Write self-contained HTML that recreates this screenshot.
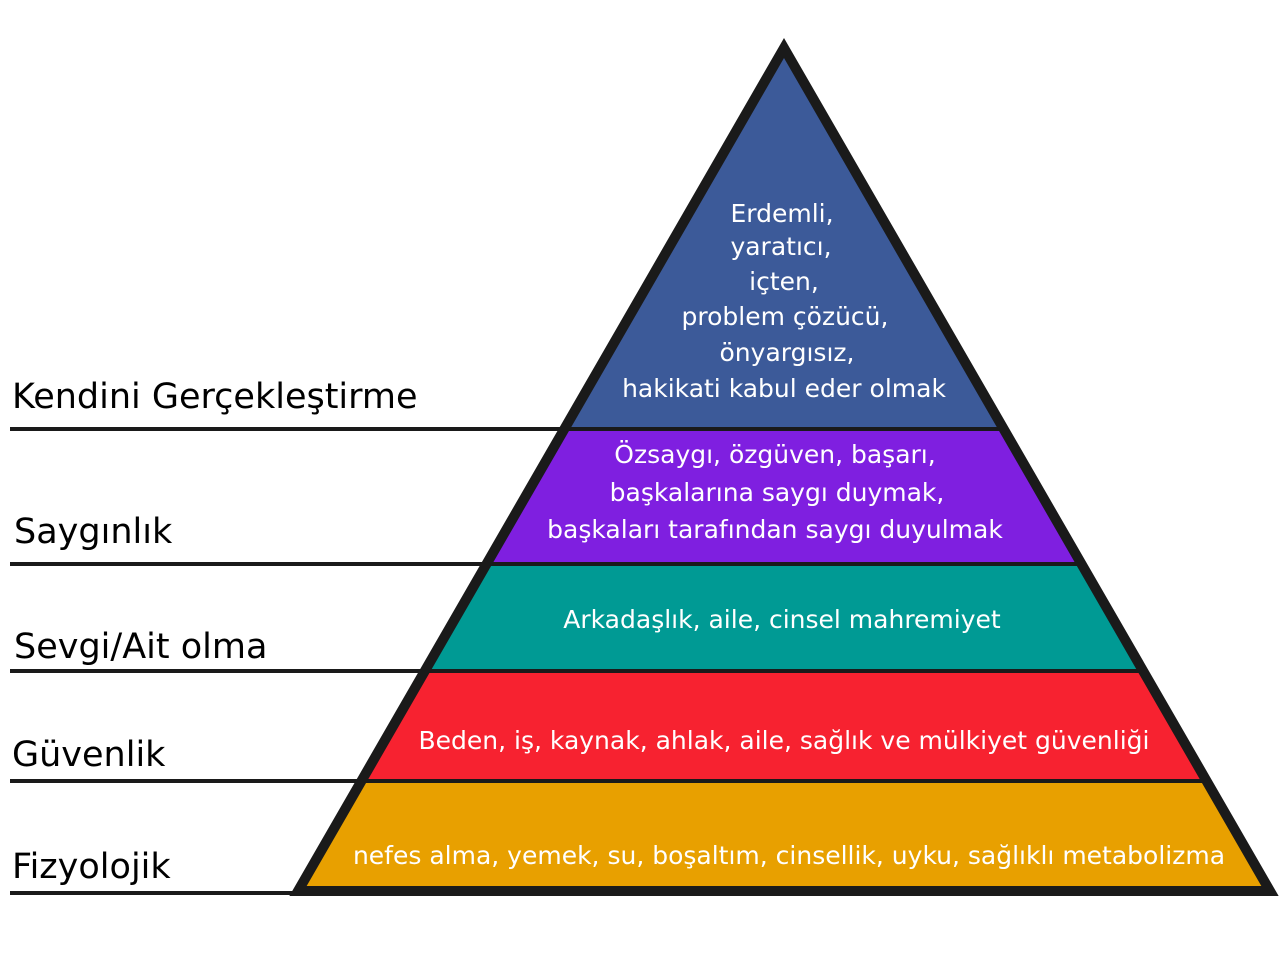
<!DOCTYPE html>
<html><head><meta charset="utf-8"><style>html,body{margin:0;padding:0;background:#fff}svg{display:block}</style></head>
<body>
<svg width="1280" height="960" viewBox="0 0 1280 960" xmlns="http://www.w3.org/2000/svg" font-family="'DejaVu Sans','Liberation Sans',sans-serif">
<defs><clipPath id="tri"><polygon points="784,48 298,891 1270,891"/></clipPath></defs>
<g clip-path="url(#tri)">
<rect x="0" y="0" width="1280" height="429" fill="#3c5a99"/>
<rect x="0" y="429" width="1280" height="135" fill="#7f1fe0"/>
<rect x="0" y="564" width="1280" height="107" fill="#009a94"/>
<rect x="0" y="671" width="1280" height="110" fill="#f72230"/>
<rect x="0" y="781" width="1280" height="120" fill="#e8a000"/>
</g>
<g stroke="#1a1a1a" stroke-width="4">
<line x1="10" y1="429" x2="1004" y2="429"/>
<line x1="10" y1="564" x2="1082" y2="564"/>
<line x1="10" y1="671" x2="1143" y2="671"/>
<line x1="10" y1="781" x2="1207" y2="781"/>
<line x1="10" y1="893" x2="300" y2="893"/>
</g>
<polygon points="784,48 298,891 1270,891" fill="none" stroke="#1a1a1a" stroke-width="10" stroke-linejoin="miter"/>
<g font-size="35" fill="#000">
<text x="12" y="408">Kendini Gerçekleştirme</text>
<text x="14" y="543">Saygınlık</text>
<text x="14" y="658">Sevgi/Ait olma</text>
<text x="12" y="766">Güvenlik</text>
<text x="12" y="878">Fizyolojik</text>
</g>
<g font-size="25" fill="#fff" text-anchor="middle">
<text x="782" y="222">Erdemli,</text>
<text x="781" y="255">yaratıcı,</text>
<text x="784" y="290">içten,</text>
<text x="785" y="325">problem çözücü,</text>
<text x="787" y="361">önyargısız,</text>
<text x="784" y="397">hakikati kabul eder olmak</text>
<text x="775" y="463">Özsaygı, özgüven, başarı,</text>
<text x="777" y="501">başkalarına saygı duymak,</text>
<text x="775" y="538">başkaları tarafından saygı duyulmak</text>
<text x="782" y="628">Arkadaşlık, aile, cinsel mahremiyet</text>
<text x="784" y="749">Beden, iş, kaynak, ahlak, aile, sağlık ve mülkiyet güvenliği</text>
<text x="789" y="864">nefes alma, yemek, su, boşaltım, cinsellik, uyku, sağlıklı metabolizma</text>
</g>
</svg>
</body></html>
